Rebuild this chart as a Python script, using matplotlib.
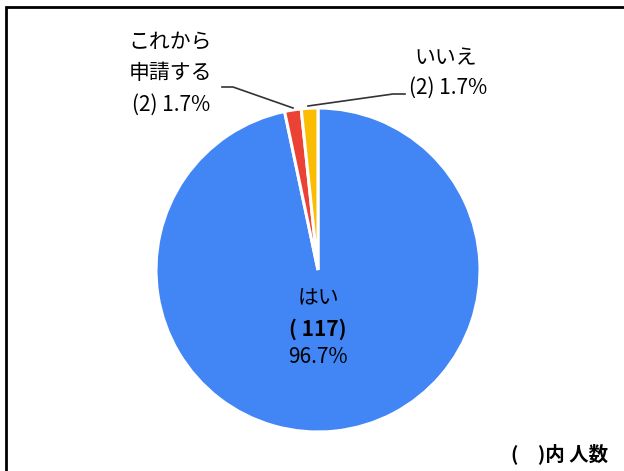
import matplotlib.pyplot as plt
from matplotlib.patches import Rectangle

plt.rcParams['font.family'] = ['Noto Sans CJK JP', 'DejaVu Sans']

labels = ['はい', 'これから\n申請する', 'いいえ']
counts = [117, 2, 2]
percents = [96.7, 1.7, 1.7]
colors = ['#4285F4', '#EA4335', '#FBBC04']

W, H = 624, 471
fig = plt.figure(figsize=(W / 100, H / 100), dpi=100)

# pie centre (318, 270) px, radius 162 px
cx, cy, r = 318, 270, 162
ax = fig.add_axes([(cx - r) / W, (H - cy - r) / H, 2 * r / W, 2 * r / H])
ax.pie(counts, colors=colors, startangle=90, counterclock=False,
       wedgeprops=dict(edgecolor='white', linewidth=2.2))
ax.set_xlim(-1, 1)
ax.set_ylim(-1, 1)
ax.set_aspect('auto')


def px(x, y):
    return x / W, 1 - y / H


fs = 15
# inner label
fig.text(*px(318, 298), labels[0], ha='center', va='center', fontsize=fs)
fig.text(*px(318, 329), '( %d)' % counts[0], ha='center', va='center',
         fontsize=fs, fontweight='bold')
fig.text(*px(318, 357), '%.1f%%' % percents[0], ha='center', va='center', fontsize=fs)

# left label
fig.text(*px(170, 42), 'これから', ha='center', va='center', fontsize=fs)
fig.text(*px(170, 73), '申請する', ha='center', va='center', fontsize=fs)
fig.text(*px(171, 105), '(%d) %.1f%%' % (counts[1], percents[1]),
         ha='center', va='center', fontsize=fs)

# right label
fig.text(*px(446, 58), labels[2], ha='center', va='center', fontsize=fs)
fig.text(*px(448, 88), '(%d) %.1f%%' % (counts[2], percents[2]),
         ha='center', va='center', fontsize=fs)

# leader lines
for xs, ys in [([222, 233, 293], [87, 87, 108]), ([308, 393, 405], [106, 94, 94])]:
    fig.add_artist(plt.Line2D([x / W for x in xs], [1 - y / H for y in ys],
                              color='#333333', lw=1.2))

fig.text(*px(560, 454), '(　)内 人数', ha='center', va='center',
         fontsize=14, fontweight='bold')

# frame (right and bottom run off the picture)
fig.add_artist(Rectangle((6 / W, -0.1), 1.2, 1 - 7 / H + 0.1,
                         transform=fig.transFigure, fill=False,
                         edgecolor='black', lw=2))

fig.savefig('out.png', dpi=100)
